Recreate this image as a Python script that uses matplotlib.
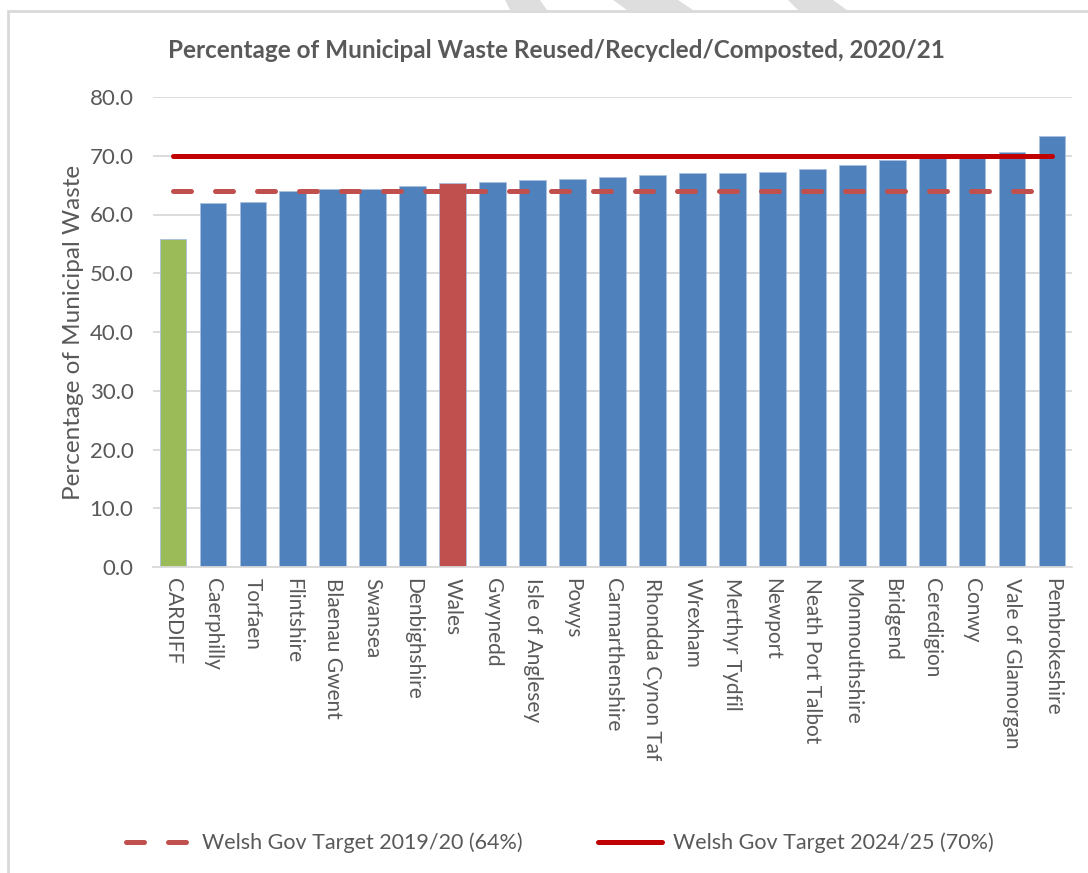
import matplotlib
matplotlib.use("Agg")
import matplotlib.pyplot as plt
from matplotlib.patches import Rectangle, Polygon
from matplotlib.lines import Line2D

# data
areas = ["CARDIFF", "Caerphilly", "Torfaen", "Flintshire", "Blaenau Gwent",
         "Swansea", "Denbighshire", "Wales", "Gwynedd", "Isle of Anglesey",
         "Powys", "Carmarthenshire", "Rhondda Cynon Taf", "Wrexham",
         "Merthyr Tydfil", "Newport", "Neath Port Talbot", "Monmouthshire",
         "Bridgend", "Ceredigion", "Conwy", "Vale of Glamorgan", "Pembrokeshire"]
recycled_pct = [55.8, 61.9, 62.1, 64.0, 64.3, 64.4, 64.9, 65.4, 65.5, 65.8,
                66.0, 66.4, 66.8, 67.0, 67.1, 67.3, 67.7, 68.4, 69.2, 69.9,
                69.9, 70.6, 73.3]
target_2019 = 64
target_2024 = 70
yticks = [0, 10, 20, 30, 40, 50, 60, 70, 80]

blue = "#4f81bd"
colours = []
for a in areas:
    if a == "CARDIFF":
        colours.append("#9bbb59")
    elif a == "Wales":
        colours.append("#c0504d")
    else:
        colours.append(blue)

plt.rcParams['font.family'] = ['Lato', 'DejaVu Sans']
txt = "#595959"

W, H = 1088, 873
fig = plt.figure(figsize=(W / 100, H / 100), dpi=100)
ax = fig.add_axes([153 / W, 1 - 567 / H, (1072 - 153) / W, (567 - 97) / H])

x = list(range(len(areas)))
ax.bar(x, recycled_pct, width=0.67, color=colours, edgecolor="#a9c0df",
       linewidth=0.6, zorder=2)

ax.plot([0, len(areas) - 1], [target_2019] * 2, color="#c0504d", lw=3.6,
        linestyle=(0, (3.6, 4.8)), dash_capstyle="round", zorder=3)
ax.plot([0, len(areas) - 1], [target_2024] * 2, color="#c00000", lw=3.6,
        solid_capstyle="round", zorder=3)

ax.set_xlim(-0.5, len(areas) - 0.5)
ax.set_ylim(0, 80)
ax.set_yticks(yticks)
ax.set_yticklabels([f"{v:.1f}" for v in yticks])
ax.set_xticks(x)
ax.set_xticklabels(areas, rotation=270, va="top", ha="center")
ax.tick_params(axis="both", length=0, colors=txt, labelsize=15)
ax.tick_params(axis="y", pad=14, labelsize=16)
ax.tick_params(axis="x", pad=8)
ax.yaxis.grid(True, color="#d9d9d9", lw=1.3, zorder=0)
ax.set_axisbelow(True)
for s in ["top", "right", "left"]:
    ax.spines[s].set_visible(False)
ax.spines["bottom"].set_color("#d9d9d9")
ax.spines["bottom"].set_linewidth(1.3)

ax.set_ylabel("Percentage of Municipal Waste", fontsize=17.5, color=txt, labelpad=4)

fig.text(556 / W, 1 - 50 / H,
         "Percentage of Municipal Waste Reused/Recycled/Composted, 2020/21",
         ha="center", va="center", fontsize=17.5, fontweight="bold", color=txt)

handles = [
    Line2D([], [], color="#c0504d", lw=3.6, linestyle=(0, (3.6, 4.8)),
           dash_capstyle="round"),
    Line2D([], [], color="#c00000", lw=3.6, solid_capstyle="round"),
]
fig.legend(handles, ["Welsh Gov Target 2019/20 (64%)", "Welsh Gov Target 2024/25 (70%)"],
           loc="center", bbox_to_anchor=(560 / W, 1 - 843 / H), ncol=2,
           frameon=False, fontsize=15.5, labelcolor=txt, handlelength=3,
           columnspacing=3.5, handletextpad=0.5)

# chart border
fig.add_artist(Rectangle((8 / W, -0.1), 1.2, 1 - 11 / H + 0.1,
                         transform=fig.transFigure, fill=False,
                         edgecolor="#d9d9d9", lw=2))

# bits of the watermark above the chart area
for pts in [[(505, 0), (540, 0), (547, 10), (510, 10)],
            [(613, 0), (678, 0), (693, 10), (627, 10)],
            [(788, 0), (833, 0), (847, 10), (798, 10)]]:
    fig.add_artist(Polygon([(px / W, 1 - py / H) for px, py in pts], closed=True,
                           transform=fig.transFigure, color="#dedede", lw=0))

fig.savefig("out.png", dpi=100)
